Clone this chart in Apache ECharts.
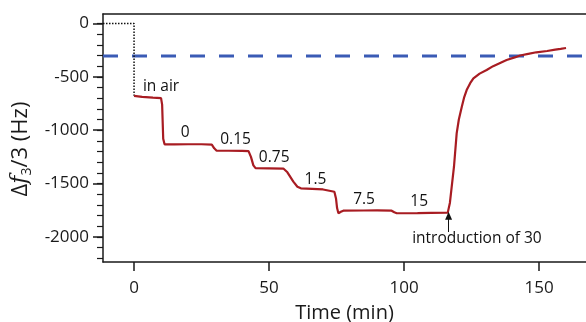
<!DOCTYPE html>
<html>
<head>
<meta charset="utf-8">
<script src="https://cdn.jsdelivr.net/npm/echarts@6/dist/echarts.min.js"></script>
<style>
  html, body { margin: 0; padding: 0; background: #fff; }
  #chart { width: 586px; height: 322px; }
</style>
</head>
<body>
<div id="chart"></div>
<script>
// 红线：时间 (min) 与 频移 (Hz)
var redTime = [0, 3, 7, 10, 10.4, 10.8, 11.3, 15, 20, 25, 28.8, 29.7, 30.6, 35, 40, 42.4, 43.3, 44.2, 45, 50, 55.3,
  56.8, 59, 60.5, 61.8, 66, 70, 74.2, 74.8, 75.2, 75.7, 76.6, 77.5, 85, 90, 95.4, 96.4, 97.3, 105, 110, 116.2,
  117, 117.8, 118.5, 119.5, 120.3, 121.4, 122.3, 123.2, 124.5, 125.7, 128, 130.6, 133, 136, 138, 141, 143, 146,
  149, 153, 156, 158, 160];
var redShift = [-678, -688, -695, -700, -760, -1080, -1133, -1133, -1132, -1132, -1135, -1170, -1193, -1193, -1194, -1197,
  -1250, -1330, -1356, -1358, -1360, -1395, -1483, -1530, -1545, -1550, -1556, -1577, -1640, -1730, -1779, -1765, -1755,
  -1753, -1752, -1755, -1770, -1779, -1777, -1775, -1773, -1680, -1500, -1343, -1030, -900, -780, -690, -624, -560,
  -514, -470, -436, -400, -365, -342, -318, -300, -285, -270, -258, -245, -238, -230];

// 空气中（黑色点线）
var airTime = [-11.5, 0, 0];
var airShift = [0, 0, -678];

// 蓝色虚线参考值
var refShift = -305;

// 坐标轴刻度
var xTicks = [0, 50, 100, 150];
var yTicks = [0, -500, -1000, -1500, -2000];
var yMinorTicks = [0, -100, -200, -300, -400, -500, -600, -700, -800, -900, -1000, -1100, -1200, -1300, -1400,
  -1500, -1600, -1700, -1800, -1900, -2000, -2100, -2200];
var xMin = -11.5, xMax = 167.4;
var yMin = -2236, yMax = 89;

// 标注文字
var noteText = ['in air', '0', '0.15', '0.75', '1.5', '7.5', '15', 'introduction of 30'];
var noteTime = [10, 18.9, 37.6, 51.9, 67.2, 85.2, 105.6, 127];
var noteShift = [-595, -1027, -1092, -1255, -1467, -1655, -1671, -2014];

// 箭头
var arrowTime = 116.5;
var arrowShift = [-1955, -1803];

var font = 'Open Sans';

function pairs(xs, ys) {
    var out = [];
    for (var i = 0; i < xs.length; i++) {
        out.push([xs[i], ys[i]]);
    }
    return out;
}

function plain(v) {
    return String(v);
}

var notes = [];
for (var i = 0; i < noteText.length; i++) {
    notes.push({ name: noteText[i], value: [noteTime[i], noteShift[i]] });
}

var myChart = echarts.init(document.getElementById('chart'));

var option = {
    animation: false,
    backgroundColor: '#fff',
    grid: {
        left: 103,
        right: 0,
        top: 14,
        bottom: 60,
        outerBoundsMode: 'none'
    },
    xAxis: [{
        type: 'value',
        position: 'bottom',
        min: xMin,
        max: xMax,
        name: 'Time (min)',
        nameLocation: 'middle',
        nameGap: 41,
        nameTextStyle: { fontFamily: font, fontSize: 20, color: '#1a1a1a' },
        axisLine: { show: true, onZero: false, lineStyle: { color: '#1a1a1a', width: 1.5 } },
        axisTick: { show: true, inside: false, length: 9, customValues: xTicks, lineStyle: { color: '#1a1a1a', width: 1.5 } },
        axisLabel: { customValues: xTicks, formatter: plain, margin: 18, fontFamily: font, fontSize: 17, color: '#1a1a1a' },
        splitLine: { show: false }
    }, {
        type: 'value',
        position: 'top',
        min: xMin,
        max: xMax,
        axisLine: { show: true, onZero: false, lineStyle: { color: '#1a1a1a', width: 1.5 } },
        axisTick: { show: false },
        axisLabel: { show: false },
        splitLine: { show: false }
    }],
    yAxis: [{
        type: 'value',
        position: 'left',
        min: yMin,
        max: yMax,
        name: '{n|Δ}{f|f}{s|3}{n|/3 (Hz)}',
        nameLocation: 'middle',
        nameGap: 68,
        nameTextStyle: {
            fontFamily: font, fontSize: 22, color: '#1a1a1a',
            padding: [0, 22, 0, 0],
            rich: {
                n: { fontFamily: font, fontSize: 22, color: '#1a1a1a' },
                f: { fontFamily: 'DejaVu Serif', fontStyle: 'italic', fontSize: 22, color: '#1a1a1a' },
                s: { fontFamily: font, fontSize: 14, color: '#1a1a1a', padding: [13, 0, 0, 0] }
            }
        },
        axisLine: { show: true, onZero: false, lineStyle: { color: '#1a1a1a', width: 1.5 } },
        axisTick: { show: true, inside: false, length: 10, customValues: yTicks, lineStyle: { color: '#1a1a1a', width: 1.5 } },
        axisLabel: { customValues: yTicks, formatter: plain, margin: 14, fontFamily: font, fontSize: 17, color: '#1a1a1a' },
        splitLine: { show: false }
    }, {
        type: 'value',
        position: 'left',
        min: yMin,
        max: yMax,
        axisLine: { show: false, onZero: false },
        axisTick: { show: true, inside: false, length: 6, customValues: yMinorTicks, lineStyle: { color: '#1a1a1a', width: 1.2 } },
        axisLabel: { show: false },
        splitLine: { show: false }
    }],
    series: [{
        name: 'ref',
        type: 'line',
        symbol: 'none',
        data: [[xMin, refShift], [xMax, refShift]],
        lineStyle: { color: '#3a5bb5', width: 3, type: [15, 14] },
        z: 2
    }, {
        name: 'air',
        type: 'line',
        symbol: 'none',
        data: pairs(airTime, airShift),
        lineStyle: { color: '#111', width: 1.5, type: [1.5, 1.5] },
        z: 3
    }, {
        name: 'shift',
        type: 'line',
        symbol: 'none',
        data: pairs(redTime, redShift),
        lineStyle: { color: '#a81c22', width: 2.2 },
        z: 4,
        markLine: {
            silent: true,
            symbol: ['none', 'triangle'],
            symbolSize: [7, 8],
            label: { show: false },
            lineStyle: { color: '#111', width: 1, type: 'solid' },
            data: [[{ coord: [arrowTime, arrowShift[0]] }, { coord: [arrowTime, arrowShift[1]] }]]
        }
    }, {
        name: 'notes',
        type: 'scatter',
        symbolSize: 0,
        data: notes,
        itemStyle: { opacity: 1 },
        label: {
            show: true,
            position: 'inside',
            formatter: '{b}',
            fontFamily: font,
            fontSize: 15.5,
            color: '#111',
            opacity: 1
        },
        z: 5
    }]
};

myChart.setOption(option);
</script>
</body>
</html>
